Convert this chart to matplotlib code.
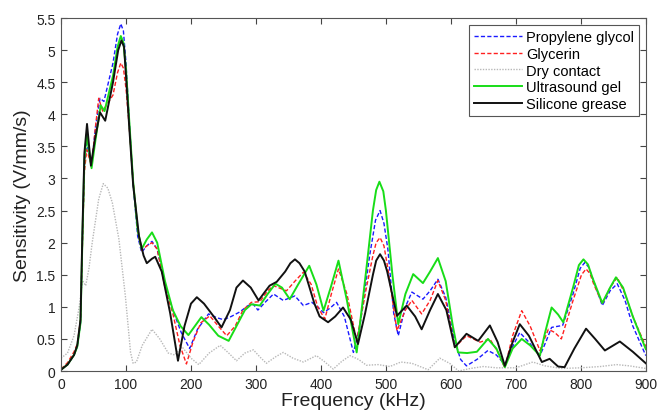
import numpy as np
import matplotlib
matplotlib.use("Agg")
import matplotlib.pyplot as plt

plt.rcParams['font.family'] = ['Liberation Sans', 'DejaVu Sans']

# Propylene glycol
pg_f = [0, 10, 20, 25, 30, 33, 36, 39.5, 47, 53, 60, 66, 80, 87, 92, 96, 100, 105, 111, 118, 124, 132, 140, 148,
        160, 172, 185, 198, 210, 227, 240, 250, 262, 275, 288, 296, 303, 315, 327, 342, 360, 373, 386, 395,
        404, 414, 424, 436, 450, 460, 475, 484, 491, 497, 503, 512, 519, 530, 540, 557, 568, 580, 592, 605, 615, 624,
        640, 657, 670, 683, 695, 706, 720, 737, 746, 755, 772, 788, 799, 806, 812, 818, 833, 845, 856, 868, 880, 900]
pg_v = [0.02, 0.1, 0.25, 0.38, 0.75, 2.1, 3.2, 3.55, 3.2, 3.8, 4.25, 4.2, 4.8, 5.25, 5.41, 5.3, 4.8, 3.9, 2.9, 2.1, 1.85,
        1.95, 2.02, 1.9, 1.35, 0.95, 0.6, 0.35, 0.65, 0.89, 0.83, 0.8, 0.85, 0.92, 1.02, 1.04, 0.95, 1.08, 1.2,
        1.1, 1.17, 1.02, 1.07, 1.0, 0.91, 0.98, 1.07, 0.85, 0.29, 0.7, 1.8, 2.35, 2.5, 2.3, 1.9, 0.9, 0.55, 1.0, 1.23,
        1.12, 1.25, 1.43, 1.15, 0.5, 0.18, 0.08, 0.18, 0.32, 0.25, 0.1, 0.38, 0.6, 0.45, 0.24, 0.45, 0.68,
        0.71, 1.2, 1.6, 1.69, 1.62, 1.45, 1.02, 1.25, 1.36, 1.1, 0.7, 0.24]

# Glycerin
gl_f = [0, 10, 20, 25, 30, 33, 36, 39.5, 47, 53, 58, 64, 80, 87, 92, 96, 100, 105, 111, 118, 124, 132, 140, 148,
        160, 172, 183, 193, 203, 215, 229, 242, 255, 268, 280, 293, 306, 318, 327, 347, 360, 373, 385, 395,
        406, 416, 427, 440, 455, 470, 480, 485, 491, 497, 503, 517, 530, 540, 555, 568, 580, 592, 606, 624, 645, 660,
        672, 683, 695, 709, 722, 737, 750, 760, 770, 788, 801, 808, 814, 820, 833, 845, 856, 868, 880, 900]
gl_v = [0.03, 0.13, 0.3, 0.42, 0.8, 2.0, 3.1, 3.45, 3.2, 3.8, 4.25, 4.05, 4.3, 4.65, 4.8, 4.72, 4.4, 3.8, 2.95, 2.2, 1.88,
        1.95, 2.0, 1.9, 1.3, 0.9, 0.4, 0.11, 0.45, 0.75, 0.86, 0.7, 0.55, 0.7, 0.95, 1.07, 1.08, 1.25, 1.33,
        1.25, 1.4, 1.54, 1.35, 1.0, 0.81, 1.2, 1.59, 1.2, 0.47, 1.3, 1.8, 2.0, 2.08, 1.95, 1.6, 0.63, 0.95, 1.1, 0.89,
        1.1, 1.41, 1.1, 0.37, 0.55, 0.45, 0.5, 0.3, 0.05, 0.55, 0.94, 0.7, 0.32, 0.65, 0.6, 0.5, 1.1, 1.5, 1.59,
        1.52, 1.35, 1.05, 1.3, 1.46, 1.2, 0.85, 0.38]

# Dry contact
dc_f = [0, 10, 20, 28, 33, 38, 43, 48, 58, 65, 72, 79, 89, 99, 107, 111, 116, 125, 140, 152, 165, 175, 186,
        200, 212, 228, 245, 258, 270, 283, 296, 306, 316, 330, 342, 357, 373, 393, 405, 419, 432, 445, 458,
        470, 488, 506, 523, 540, 565, 583, 598, 612, 630, 650, 670, 700, 726, 745, 770, 800, 830, 855, 875, 900]
dc_v = [0.2, 0.28, 0.55, 1.0, 1.41, 1.33, 1.6, 2.0, 2.68, 2.92, 2.85, 2.62, 2.06, 1.17, 0.29, 0.12, 0.14,
        0.4, 0.65, 0.5, 0.28, 0.25, 0.38, 0.2, 0.1, 0.28, 0.4, 0.28, 0.16, 0.28, 0.33, 0.22, 0.12, 0.22, 0.29,
        0.2, 0.14, 0.24, 0.15, 0.03, 0.15, 0.24, 0.18, 0.09, 0.1, 0.07, 0.14, 0.12, 0.02, 0.2, 0.12, 0.0,
        0.04, 0.07, 0.05, 0.05, 0.14, 0.08, 0.04, 0.05, 0.07, 0.1, 0.08, 0.04]

# Ultrasound gel
ug_f = [0, 10, 20, 25, 30, 33, 36, 39.5, 47, 53, 61, 67, 80, 87, 92, 96, 100, 105, 111, 118, 124, 132, 140, 148,
        160, 172, 184, 196, 206, 216, 228, 242, 258, 270, 283, 293, 306, 318, 330, 340, 352, 365, 382, 393,
        404, 415, 427, 440, 455, 470, 480, 485, 490, 496, 500, 510, 519, 530, 542, 557, 568, 580, 592, 603, 611, 625,
        640, 657, 670, 683, 695, 709, 722, 737, 745, 755, 765, 773, 788, 797, 804, 811, 818, 833, 845, 854, 865,
        880, 900]
ug_v = [0.02, 0.1, 0.25, 0.38, 0.75, 2.1, 3.3, 3.68, 3.16, 3.6, 4.14, 4.05, 4.6, 5.05, 5.22, 5.12, 4.7, 3.9, 2.95, 2.2,
        1.9, 2.05, 2.16, 2.0, 1.4, 0.95, 0.7, 0.56, 0.7, 0.84, 0.72, 0.55, 0.47, 0.7, 0.95, 1.04, 1.02, 1.2,
        1.36, 1.3, 1.12, 1.35, 1.64, 1.35, 0.94, 1.3, 1.72, 1.1, 0.29, 1.6, 2.5, 2.82, 2.95, 2.8, 2.5, 1.5, 0.73, 1.2,
        1.51, 1.37, 1.55, 1.76, 1.4, 0.7, 0.29, 0.28, 0.3, 0.5, 0.35, 0.06, 0.35, 0.5, 0.4, 0.24, 0.6, 0.99,
        0.88, 0.76, 1.3, 1.65, 1.74, 1.66, 1.45, 1.06, 1.3, 1.46, 1.3, 0.85, 0.34]

# Silicone grease
sg_f = [0, 10, 20, 25, 30, 33, 36, 40, 46, 52, 60, 68, 80, 88, 93, 97, 100, 105, 111, 120, 127, 132, 140, 145, 155,
        168, 180, 190, 200, 209, 220, 235, 247, 260, 270, 280, 292, 304, 315, 321, 332, 345, 353, 360, 367, 375, 390,
        398, 411, 422, 434, 446, 457, 468, 480, 485, 491, 497, 502, 517, 532, 545, 555, 568, 580, 593, 606, 624, 642,
        660, 672, 683, 695, 706, 720, 740, 752, 765, 775, 790, 808, 822, 837, 860, 880, 900]
sg_v = [0.02, 0.1, 0.25, 0.4, 0.8, 2.2, 3.4, 3.85, 3.2, 3.6, 4.03, 3.9, 4.5, 5.0, 5.15, 5.05, 4.6, 3.8, 2.9, 2.1, 1.8,
        1.68, 1.75, 1.78, 1.55, 0.9, 0.16, 0.7, 1.05, 1.15, 1.05, 0.85, 0.68, 0.95, 1.3, 1.41, 1.3, 1.1, 1.25,
        1.33, 1.39, 1.55, 1.68, 1.74, 1.68, 1.55, 1.05, 0.85, 0.76, 0.85, 0.99, 0.8, 0.42, 0.9, 1.5, 1.72, 1.82, 1.72,
        1.55, 0.86, 1.02, 0.85, 0.65, 0.95, 1.2, 0.95, 0.37, 0.58, 0.47, 0.71, 0.45, 0.08, 0.45, 0.73, 0.55, 0.14,
        0.19, 0.07, 0.06, 0.35, 0.66, 0.5, 0.32, 0.46, 0.3, 0.12]

series = [
    ("Propylene glycol", pg_f, pg_v, '#1a1aff', (0, (3, 1.6)), 1.0),
    ("Glycerin", gl_f, gl_v, '#ff2020', (0, (3, 1.6)), 1.0),
    ("Dry contact", dc_f, dc_v, '#b8b8b8', (0, (1, 1)), 1.0),
    ("Ultrasound gel", ug_f, ug_v, '#18dd18', '-', 1.4),
    ("Silicone grease", sg_f, sg_v, '#111111', '-', 1.4),
]

fig = plt.figure(figsize=(6.59, 4.14), dpi=100)
ax = fig.add_axes([0.0926, 0.1014, 0.8874, 0.8526])

for name, f, v, col, ls, lw in series:
    ax.plot(f, v, color=col, linestyle=ls, linewidth=lw, label=name)

ax.set_xlim(0, 900)
ax.set_ylim(0, 5.5)
ax.set_xticks(np.arange(0, 901, 100))
yt = np.arange(0, 5.51, 0.5)
ax.set_yticks(yt)
ax.set_yticklabels([f"{t:g}" for t in yt])
ax.tick_params(direction='in', top=True, right=True, length=4, width=0.8,
               labelsize=10, color='#444444', labelcolor='#222222', pad=4)
for s in ax.spines.values():
    s.set_color('#555555')
    s.set_linewidth(0.8)

ax.set_xlabel("Frequency (kHz)", fontsize=14, color='#222222', labelpad=1)
ax.set_ylabel("Sensitivity (V/mm/s)", fontsize=14, color='#222222', labelpad=4)

leg = ax.legend(loc='upper right', fontsize=10.5, frameon=True, fancybox=False,
                framealpha=1, edgecolor='#555555', handlelength=3.3, handletextpad=0.3,
                labelspacing=0.2, borderpad=0.3, borderaxespad=0.5)
leg.get_frame().set_linewidth(0.8)

fig.savefig("out.png", dpi=100)
